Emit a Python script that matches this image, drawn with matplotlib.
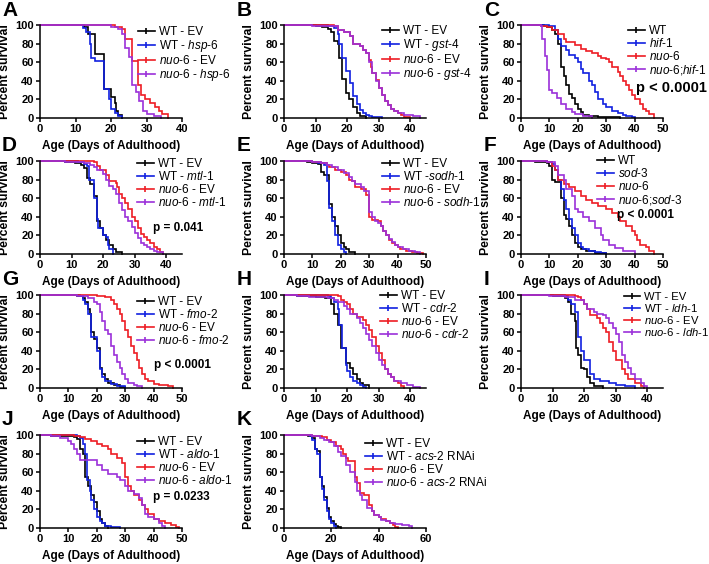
import matplotlib
matplotlib.use("Agg")
import matplotlib.pyplot as plt
from matplotlib.lines import Line2D

plt.rcParams['font.family'] = ['Liberation Sans', 'DejaVu Sans']
plt.rcParams['mathtext.fontset'] = 'custom'
plt.rcParams['mathtext.rm'] = 'Liberation Sans'
plt.rcParams['mathtext.it'] = 'Liberation Sans:italic'
plt.rcParams['mathtext.bf'] = 'Liberation Sans:bold'

# ---------------- data (day, percent survival breakpoints) ----------------
# Panel A
A_wt_ev_day = [0, 12.5, 13.5, 15.5, 18, 20, 21, 21.5, 22, 23]
A_wt_ev_surv = [100, 98, 90, 69, 31, 23, 16, 8, 3, 0]
A_wt_hsp6_day = [0, 12, 13, 14, 14.5, 15.5, 18, 19.5, 20, 21, 22, 23]
A_wt_hsp6_surv = [100, 97, 92, 80, 64, 61, 31, 20, 10, 5, 2, 0]
A_nuo_ev_day = [0, 21, 23, 24, 26, 27.5, 28.5, 29.5, 31, 32.5, 33.5, 34.5, 36]
A_nuo_ev_surv = [100, 98, 96, 85, 61, 36, 25, 20, 16, 12, 8, 4, 0]
A_nuo_hsp6_day = [0, 20, 22, 23, 24, 25, 26, 27, 28, 29, 30, 32, 34]
A_nuo_hsp6_surv = [100, 98, 96, 90, 75, 66, 35, 28, 18, 8, 4, 2, 0]

# Panel B
B_wt_ev_day = [0, 10, 12, 14, 15, 16, 17, 17.5, 18.5, 19.5, 20.5, 22, 23, 24, 26]
B_wt_ev_surv = [100, 99, 98, 96, 93, 83, 80, 65, 42, 27, 20, 12, 5, 2, 0]
B_wt_gst4_day = [0, 14, 16, 17, 17.5, 18.5, 19.5, 21, 22, 23, 24, 25, 26, 27, 28, 31]
B_wt_gst4_surv = [100, 99, 97, 90, 80, 65, 51, 38, 24, 15, 9, 5, 3, 2, 1, 0]
B_nuo_ev_day = [0, 16, 17, 19, 21, 22, 24, 25, 26, 27, 27.5, 28, 29, 30, 31, 32, 33, 34, 35, 36, 37, 38, 40]
B_nuo_ev_surv = [100, 99, 95, 92, 88, 80, 77, 73, 70, 62, 55, 48, 41, 32, 25, 18, 14, 10, 7, 5, 3, 1, 0]
B_nuo_gst4_day = [0, 9, 17, 19, 21, 22, 24, 25, 26, 27, 28, 29, 30, 31, 32, 33, 34, 35, 36, 38, 41, 43]
B_nuo_gst4_surv = [100, 99, 95, 92, 88, 80, 77, 73, 70, 60, 48, 40, 32, 25, 18, 14, 10, 7, 5, 3, 2, 0]

# Panel C
C_wt_day = [0, 8, 9, 11, 12, 13, 14, 15, 16, 17, 18, 19, 20, 21, 22, 24, 27, 35]
C_wt_surv = [100, 99, 98, 95, 90, 80, 55, 45, 35, 26, 22, 15, 10, 6, 3, 2, 1, 0]
C_hif1_day = [0, 10, 12, 13, 14, 16, 17, 19, 20, 21, 22, 24, 25, 26, 27, 29, 30, 32, 34, 36, 37, 39, 40]
C_hif1_surv = [100, 99, 95, 85, 77, 73, 68, 65, 60, 53, 48, 40, 35, 28, 20, 15, 12, 8, 5, 3, 2, 1, 0]
C_nuo_day = [0, 7, 9, 11, 13, 15, 16, 19, 21, 23, 25, 27, 28, 30, 31, 32, 34, 35, 36, 37, 38, 39, 40, 42, 43, 44, 45, 47]
C_nuo_surv = [100, 99, 98, 95, 90, 85, 82, 78, 74, 72, 70, 67, 65, 63, 60, 55, 50, 45, 40, 35, 30, 25, 20, 15, 10, 7, 4, 0]
C_nuo_hif1_day = [0, 7, 7.5, 8.5, 9, 10, 11, 12.5, 14, 16, 18, 19, 22, 25]
C_nuo_hif1_surv = [100, 99, 85, 67, 52, 30, 27, 21, 15, 10, 6, 4, 2, 0]

# Panel D
D_wt_ev_day = [0, 8, 11, 13, 14, 15, 16, 17, 18, 19, 20, 21, 22, 23, 24, 26]
D_wt_ev_surv = [100, 99, 98, 96, 93, 82, 75, 62, 35, 28, 20, 15, 10, 5, 2, 0]
D_wt_mtl1_day = [0, 12, 14, 15, 15.5, 17, 18, 18.5, 20, 21, 21.5, 22, 23]
D_wt_mtl1_surv = [100, 99, 97, 95, 80, 60, 38, 28, 20, 18, 10, 5, 0]
D_nuo_ev_day = [0, 17, 18, 19, 21, 22, 24, 24.5, 25, 26, 27, 28, 29, 30, 31, 32, 33, 34, 35, 36, 37, 38, 39]
D_nuo_ev_surv = [100, 99, 95, 90, 85, 78, 76, 72, 65, 60, 55, 48, 40, 35, 28, 22, 18, 15, 12, 8, 5, 2, 0]
D_nuo_mtl1_day = [0, 8, 14, 16, 17, 18, 20, 21, 22, 23, 24, 25, 26, 27, 28, 29, 30, 31, 32, 33, 34, 35, 36, 37, 39]
D_nuo_mtl1_surv = [100, 99, 98, 96, 94, 90, 86, 80, 73, 70, 65, 55, 47, 40, 35, 29, 23, 17, 12, 10, 7, 5, 3, 2, 0]

# Panel E
E_wt_ev_day = [0, 8, 10, 12, 13, 14, 16, 17, 18, 19, 20, 21, 22, 23, 25]
E_wt_ev_surv = [100, 99, 98, 97, 88, 85, 54, 40, 30, 20, 12, 8, 5, 2, 0]
E_wt_sodh1_day = [0, 10, 12, 14, 15, 16, 17, 18, 19, 20, 21, 22]
E_wt_sodh1_surv = [100, 99, 98, 96, 78, 50, 35, 20, 10, 5, 2, 0]
E_nuo_ev_day = [0, 10, 13, 15, 16, 18, 20, 22, 23, 24, 25, 27, 29, 30, 31, 33, 34, 35, 36, 37, 38, 39, 40, 41, 43, 45, 47, 49]
E_nuo_ev_surv = [100, 99, 98, 96, 94, 90, 88, 85, 80, 78, 72, 70, 63, 40, 37, 35, 30, 25, 20, 15, 12, 10, 7, 5, 3, 2, 1, 0]
E_nuo_sodh1_day = [0, 10, 13, 15, 17, 19, 21, 23, 24, 25, 27, 28, 30, 31, 32, 33, 34, 35, 36, 37, 38, 39, 40, 42, 44, 46, 48]
E_nuo_sodh1_surv = [100, 99, 98, 96, 94, 90, 87, 83, 78, 75, 72, 68, 45, 40, 36, 33, 30, 25, 20, 16, 13, 10, 8, 5, 3, 2, 0]

# Panel F
F_wt_day = [0, 5, 9, 10, 11, 12, 14, 15, 16, 17, 18, 19, 20, 21, 23, 26, 30]
F_wt_surv = [100, 99, 98, 95, 80, 77, 60, 42, 38, 30, 20, 12, 8, 5, 3, 1, 0]
F_sod3_day = [0, 9, 11, 12, 13, 14, 15, 16, 17, 18, 19, 20, 21, 22, 24, 26, 28, 30]
F_sod3_surv = [100, 99, 97, 90, 80, 70, 58, 48, 38, 28, 20, 12, 8, 5, 3, 2, 1, 0]
F_nuo_day = [0, 9, 11, 12, 13, 15, 17, 19, 21, 23, 25, 27, 30, 32, 34, 35, 37, 39, 40, 41, 42, 44, 45, 47]
F_nuo_surv = [100, 99, 95, 90, 80, 75, 72, 68, 62, 58, 55, 52, 48, 44, 40, 35, 30, 25, 20, 15, 10, 7, 3, 0]
F_nuo_sod3_day = [0, 9, 12, 13, 15, 16, 18, 19, 20, 22, 24, 26, 28, 29, 31, 33, 36, 40]
F_nuo_sod3_surv = [100, 99, 95, 85, 80, 70, 62, 48, 45, 40, 35, 28, 20, 15, 10, 6, 3, 0]

# Panel G
G_wt_ev_day = [0, 13, 15, 16, 17, 17.5, 18, 19, 20, 21, 22, 23, 24, 26, 28, 30]
G_wt_ev_surv = [100, 99, 97, 93, 85, 80, 60, 53, 43, 22, 15, 10, 5, 3, 1, 0]
G_wt_fmo2_day = [0, 14, 15, 16, 17, 18, 20, 21, 22, 23, 25, 27, 30]
G_wt_fmo2_surv = [100, 99, 95, 90, 80, 55, 40, 20, 12, 7, 4, 2, 0]
G_nuo_ev_day = [0, 20, 23, 25, 26, 27, 28, 29, 30, 31, 32, 33, 34, 35, 36, 37, 38, 40, 42, 45, 47]
G_nuo_ev_surv = [100, 99, 98, 95, 90, 85, 80, 72, 62, 55, 45, 38, 30, 22, 15, 10, 7, 4, 3, 2, 0]
G_nuo_fmo2_day = [0, 13, 17, 19, 20, 21, 22, 23, 24, 25, 26, 27, 28, 29, 30, 31, 33, 34, 36]
G_nuo_fmo2_surv = [100, 99, 97, 93, 90, 82, 72, 62, 58, 45, 35, 28, 22, 15, 10, 5, 3, 2, 0]

# Panel H
H_wt_ev_day = [0, 4, 10, 13, 15, 16, 17, 18, 19.5, 21, 22, 23, 24, 25, 27]
H_wt_ev_surv = [100, 99, 98, 97, 90, 80, 68, 43, 27, 22, 15, 10, 5, 3, 0]
H_wt_cdr2_day = [0, 14, 15, 16, 17, 17.5, 18.5, 19.5, 20, 21, 22, 23, 24, 25, 26]
H_wt_cdr2_surv = [100, 99, 97, 92, 85, 68, 43, 25, 18, 12, 8, 5, 3, 1, 0]
H_nuo_ev_day = [0, 17, 18, 19, 20, 21, 22, 23, 25, 26, 27, 28, 29, 30, 31, 32, 33, 34, 35, 36, 37, 38]
H_nuo_ev_surv = [100, 99, 95, 92, 90, 85, 80, 76, 73, 68, 62, 55, 45, 38, 30, 20, 15, 12, 8, 5, 2, 0]
H_nuo_cdr2_day = [0, 4, 8, 14, 16, 17, 19, 20, 21, 23, 24, 25, 26, 27, 28, 29, 30, 31, 32, 33, 34, 35, 37, 39, 41, 43]
H_nuo_cdr2_surv = [100, 99, 98, 97, 95, 92, 88, 85, 80, 75, 70, 65, 58, 52, 45, 38, 30, 25, 20, 15, 12, 8, 5, 3, 1, 0]

# Panel I
I_wt_ev_day = [0, 10, 14, 15, 16, 17, 17.5, 18, 19, 20, 21, 22, 23, 26]
I_wt_ev_surv = [100, 99, 97, 93, 80, 72, 43, 35, 22, 20, 12, 5, 2, 0]
I_wt_ldh1_day = [0, 14, 15, 16, 17, 18, 19, 20, 22, 23, 25, 28, 30, 33, 36]
I_wt_ldh1_surv = [100, 99, 95, 90, 82, 55, 40, 30, 15, 10, 8, 5, 3, 2, 0]
I_nuo_ev_day = [0, 17, 18, 19, 20, 21, 22, 24, 25, 26, 27, 28, 29, 30, 32, 33, 34, 36, 38, 39]
I_nuo_ev_surv = [100, 99, 98, 95, 90, 85, 78, 75, 70, 65, 60, 50, 40, 30, 20, 15, 10, 5, 2, 0]
I_nuo_ldh1_day = [0, 9, 14, 17, 20, 21, 23, 24, 26, 27, 28, 29, 30, 31, 32, 33, 34, 35, 36, 38, 39, 40]
I_nuo_ldh1_surv = [100, 99, 98, 95, 90, 85, 82, 80, 78, 75, 70, 65, 58, 50, 35, 28, 22, 15, 10, 5, 2, 0]

# Panel J
J_wt_ev_day = [0, 4, 12, 13, 14, 15, 16, 17, 18, 19, 20, 21, 22, 23, 24]
J_wt_ev_surv = [100, 99, 98, 96, 85, 80, 55, 45, 35, 28, 18, 10, 5, 2, 0]
J_wt_aldo1_day = [0, 13, 14, 15, 16, 16.5, 17.5, 18, 19, 20, 21, 22, 23, 25, 28]
J_wt_aldo1_surv = [100, 99, 97, 90, 80, 52, 40, 30, 20, 12, 8, 5, 2, 1, 0]
J_nuo_ev_day = [0, 12, 14, 16, 18, 20, 22, 24, 25, 27, 29, 30, 31, 32, 33, 35, 36, 37, 38, 40, 42, 44, 46, 48, 49]
J_nuo_ev_surv = [100, 99, 98, 96, 94, 90, 88, 85, 80, 75, 70, 55, 45, 40, 35, 30, 25, 20, 15, 10, 7, 5, 3, 1, 0]
J_nuo_aldo1_day = [0, 4, 7, 10, 11, 12, 13, 14, 20, 22, 24, 27, 28, 30, 31, 33, 35, 36, 37, 38, 40, 42, 43, 44]
J_nuo_aldo1_surv = [100, 99, 97, 94, 90, 85, 80, 73, 68, 62, 58, 55, 52, 45, 40, 37, 32, 25, 15, 12, 10, 5, 2, 0]

# Panel K
K_wt_ev_day = [0, 10, 12, 13, 14, 15, 16, 17, 18, 19, 20, 21, 22, 23, 24]
K_wt_ev_surv = [100, 99, 97, 85, 83, 55, 45, 33, 22, 12, 7, 4, 2, 1, 0]
K_wt_acs2_day = [0, 11, 12, 13, 14, 15, 16, 17, 18, 19, 20, 21, 22]
K_wt_acs2_surv = [100, 99, 95, 85, 80, 55, 42, 30, 18, 10, 5, 2, 0]
K_nuo_ev_day = [0, 12, 16, 18, 20, 22, 24, 25, 26, 27, 30, 31, 32, 34, 36, 37, 38, 40, 41, 43, 45, 46, 47, 48]
K_nuo_ev_surv = [100, 99, 98, 95, 92, 88, 85, 80, 75, 72, 55, 48, 38, 35, 25, 18, 14, 12, 10, 7, 5, 3, 1, 0]
K_nuo_acs2_day = [0, 12, 15, 17, 19, 21, 23, 24, 26, 28, 30, 31, 32, 33, 35, 37, 38, 40, 41, 43, 45, 47, 50, 53, 54]
K_nuo_acs2_surv = [100, 99, 97, 95, 92, 88, 82, 77, 68, 60, 50, 40, 35, 30, 22, 18, 14, 12, 9, 7, 5, 4, 3, 2, 0]

# legend labels
A_labels = ['WT - EV', r'WT - $\mathit{hsp}$-$\mathit{6}$', r'$\mathit{nuo}$-$\mathit{6}$ - EV', r'$\mathit{nuo}$-$\mathit{6}$ - $\mathit{hsp}$-$\mathit{6}$']
B_labels = ['WT - EV', r'WT - $\mathit{gst}$-$\mathit{4}$', r'$\mathit{nuo}$-$\mathit{6}$ - EV', r'$\mathit{nuo}$-$\mathit{6}$ - $\mathit{gst}$-$\mathit{4}$']
C_labels = ['WT', r'$\mathit{hif}$-$\mathit{1}$', r'$\mathit{nuo}$-$\mathit{6}$', r'$\mathit{nuo}$-$\mathit{6}$;$\mathit{hif}$-$\mathit{1}$']
D_labels = ['WT - EV', r'WT - $\mathit{mtl}$-$\mathit{1}$', r'$\mathit{nuo}$-$\mathit{6}$ - EV', r'$\mathit{nuo}$-$\mathit{6}$ - $\mathit{mtl}$-$\mathit{1}$']
E_labels = ['WT - EV', r'WT -$\mathit{sodh}$-$\mathit{1}$', r'$\mathit{nuo}$-$\mathit{6}$ - EV', r'$\mathit{nuo}$-$\mathit{6}$ - $\mathit{sodh}$-$\mathit{1}$']
F_labels = ['WT', r'$\mathit{sod}$-$\mathit{3}$', r'$\mathit{nuo}$-$\mathit{6}$', r'$\mathit{nuo}$-$\mathit{6}$;$\mathit{sod}$-$\mathit{3}$']
G_labels = ['WT - EV', r'WT - $\mathit{fmo}$-$\mathit{2}$', r'$\mathit{nuo}$-$\mathit{6}$ - EV', r'$\mathit{nuo}$-$\mathit{6}$ - $\mathit{fmo}$-$\mathit{2}$']
H_labels = ['WT - EV', r'WT - $\mathit{cdr}$-$\mathit{2}$', r'$\mathit{nuo}$-$\mathit{6}$ - EV', r'$\mathit{nuo}$-$\mathit{6}$ - $\mathit{cdr}$-$\mathit{2}$']
I_labels = ['WT - EV', r'WT - $\mathit{ldh}$-$\mathit{1}$', r'$\mathit{nuo}$-$\mathit{6}$ - EV', r'$\mathit{nuo}$-$\mathit{6}$ - $\mathit{ldh}$-$\mathit{1}$']
J_labels = ['WT - EV', r'WT - $\mathit{aldo}$-$\mathit{1}$', r'$\mathit{nuo}$-$\mathit{6}$ - EV', r'$\mathit{nuo}$-$\mathit{6}$ - $\mathit{aldo}$-$\mathit{1}$']
K_labels = ['WT - EV', r'WT - $\mathit{acs}$-$\mathit{2}$ RNAi', r'$\mathit{nuo}$-$\mathit{6}$ - EV', r'$\mathit{nuo}$-$\mathit{6}$ - $\mathit{acs}$-$\mathit{2}$ RNAi']

pvalues = {'C': 'p < 0.0001', 'D': 'p = 0.041', 'F': 'p < 0.0001', 'G': 'p < 0.0001', 'J': 'p = 0.0233'}
xmax = {'A': 40, 'B': 45, 'C': 50, 'D': 45, 'E': 50, 'F': 50, 'G': 50, 'H': 45, 'I': 45, 'J': 50, 'K': 60}
xstep = {'K': 20}

panels = {
    'A': ([A_wt_ev_day, A_wt_hsp6_day, A_nuo_ev_day, A_nuo_hsp6_day], [A_wt_ev_surv, A_wt_hsp6_surv, A_nuo_ev_surv, A_nuo_hsp6_surv], A_labels),
    'B': ([B_wt_ev_day, B_wt_gst4_day, B_nuo_ev_day, B_nuo_gst4_day], [B_wt_ev_surv, B_wt_gst4_surv, B_nuo_ev_surv, B_nuo_gst4_surv], B_labels),
    'C': ([C_wt_day, C_hif1_day, C_nuo_day, C_nuo_hif1_day], [C_wt_surv, C_hif1_surv, C_nuo_surv, C_nuo_hif1_surv], C_labels),
    'D': ([D_wt_ev_day, D_wt_mtl1_day, D_nuo_ev_day, D_nuo_mtl1_day], [D_wt_ev_surv, D_wt_mtl1_surv, D_nuo_ev_surv, D_nuo_mtl1_surv], D_labels),
    'E': ([E_wt_ev_day, E_wt_sodh1_day, E_nuo_ev_day, E_nuo_sodh1_day], [E_wt_ev_surv, E_wt_sodh1_surv, E_nuo_ev_surv, E_nuo_sodh1_surv], E_labels),
    'F': ([F_wt_day, F_sod3_day, F_nuo_day, F_nuo_sod3_day], [F_wt_surv, F_sod3_surv, F_nuo_surv, F_nuo_sod3_surv], F_labels),
    'G': ([G_wt_ev_day, G_wt_fmo2_day, G_nuo_ev_day, G_nuo_fmo2_day], [G_wt_ev_surv, G_wt_fmo2_surv, G_nuo_ev_surv, G_nuo_fmo2_surv], G_labels),
    'H': ([H_wt_ev_day, H_wt_cdr2_day, H_nuo_ev_day, H_nuo_cdr2_day], [H_wt_ev_surv, H_wt_cdr2_surv, H_nuo_ev_surv, H_nuo_cdr2_surv], H_labels),
    'I': ([I_wt_ev_day, I_wt_ldh1_day, I_nuo_ev_day, I_nuo_ldh1_day], [I_wt_ev_surv, I_wt_ldh1_surv, I_nuo_ev_surv, I_nuo_ldh1_surv], I_labels),
    'J': ([J_wt_ev_day, J_wt_aldo1_day, J_nuo_ev_day, J_nuo_aldo1_day], [J_wt_ev_surv, J_wt_aldo1_surv, J_nuo_ev_surv, J_nuo_aldo1_surv], J_labels),
    'K': ([K_wt_ev_day, K_wt_acs2_day, K_nuo_ev_day, K_nuo_acs2_day], [K_wt_ev_surv, K_wt_acs2_surv, K_nuo_ev_surv, K_nuo_acs2_surv], K_labels),
}

colors = ['#000000', '#1020e0', '#ee1c24', '#9b30d9']

# ---------------- layout (pixels) ----------------
W, H = 709, 564
col_left = [40, 284, 521]
row_top = [25, 161, 295, 435]
ax_w, ax_h = 142, 93
order = ['A', 'B', 'C', 'D', 'E', 'F', 'G', 'H', 'I', 'J', 'K']
legend_pos = {'A': (138, 33), 'B': (382, 32), 'C': (628, 32), 'D': (137, 165), 'E': (382, 165),
              'F': (597, 162), 'G': (137, 303), 'H': (380, 297), 'I': (624, 299), 'J': (137, 443), 'K': (365, 445)}
legend_fs = {'I': 8.1}
p_pos = {'C': (636, 88, 10.5), 'D': (153, 228, 8.5), 'F': (617, 215, 8.5), 'G': (154, 365, 8.5), 'J': (153, 497, 8.5)}
letter_pos = {'A': (2, 1), 'B': (237, 1), 'C': (484, 1), 'D': (2, 136), 'E': (237, 136), 'F': (484, 136),
              'G': (2, 270), 'H': (237, 270), 'I': (484, 270), 'J': (2, 410), 'K': (237, 410)}

fig = plt.figure(figsize=(W / 100, H / 100), dpi=100)

for i, key in enumerate(order):
    r, c = divmod(i, 3)
    l, t = col_left[c], row_top[r]
    ax = fig.add_axes([l / W, 1 - (t + ax_h) / H, ax_w / W, ax_h / H])
    days, survs, labels = panels[key]
    for d, s, col in zip(days, survs, colors):
        ax.step(d, s, where='post', color=col, lw=1.2, solid_joinstyle='miter', clip_on=False)
    ax.set_xlim(0, xmax[key])
    ax.set_ylim(0, 100)
    step = xstep.get(key, 10)
    ax.set_xticks(range(0, xmax[key] + 1, step) if xmax[key] % step == 0 else range(0, xmax[key], step))
    ax.set_yticks([0, 20, 40, 60, 80, 100])
    for sp in ['top', 'right']:
        ax.spines[sp].set_visible(False)
    for sp in ['left', 'bottom']:
        ax.spines[sp].set_linewidth(1.1)
    ax.tick_params(direction='out', length=3, width=1.1, pad=1.5, labelsize=8)
    for lab in ax.get_xticklabels() + ax.get_yticklabels():
        lab.set_fontweight('bold')
    ax.set_xlabel('Age (Days of Adulthood)', fontsize=8.5, fontweight='bold', labelpad=4)
    ax.set_ylabel('Percent survival', fontsize=8.8, fontweight='bold')
    ax.yaxis.set_label_coords(-0.205, 0.5)
    handles = [Line2D([], [], color=col, lw=1.2, marker='|', markersize=5, markeredgewidth=1.2) for col in colors]
    lx, ly = legend_pos[key]
    ax.legend(handles, labels, loc='upper left', bbox_to_anchor=(lx / W, 1 - (ly - 7) / H),
              bbox_transform=fig.transFigure, frameon=False, fontsize=legend_fs.get(key, 8.5),
              borderpad=0, borderaxespad=0, handlelength=1.4, handletextpad=0.4, labelspacing=0.0)
    if key in pvalues:
        px, py, fs = p_pos[key]
        fig.text(px / W, 1 - py / H, pvalues[key], fontsize=fs, fontweight='bold', va='center', ha='left')
    lx2, ly2 = letter_pos[key]
    fig.text(lx2 / W, 1 - ly2 / H, key, fontsize=15, fontweight='bold', va='top', ha='left')

fig.savefig('out.png', dpi=100)
